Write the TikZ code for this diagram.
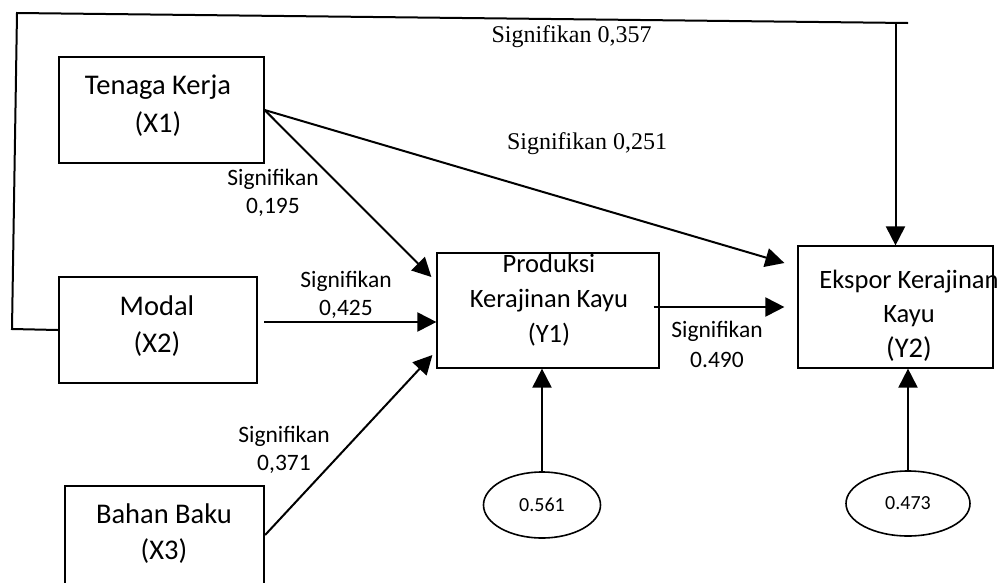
\documentclass[tikz,border=0pt]{standalone}
\usepackage{fontspec}
\setmainfont{Carlito}
\newfontfamily\tms{Liberation Serif}
\usetikzlibrary{arrows.meta,shapes.geometric}
\begin{document}
\begin{tikzpicture}[x=1pt,y=-1pt,
  thinbox/.style={draw,line width=1.2pt,inner sep=0pt},
  thickbox/.style={draw,line width=2.2pt,inner sep=0pt},
  boxtext/.style={align=center,anchor=base,inner sep=0pt,font=\fontsize{28.5}{38}\selectfont},
  ytext/.style={align=center,anchor=base,inner sep=0pt,font=\fontsize{26.5}{35}\selectfont},
  siglabel/.style={align=center,anchor=base,inner sep=0pt,font=\fontsize{23.5}{28}\selectfont},
  tlabel/.style={anchor=base,inner sep=0pt,font=\tms\fontsize{24}{28}\selectfont},
  oval/.style={draw,line width=1.6pt,ellipse,inner sep=0pt,font=\fontsize{20}{24}\selectfont},
  conn/.style={line width=2pt},
  arr/.style={conn,-{Triangle[length=19pt,width=19pt]}}
]
\useasboundingbox (0,0) rectangle (1002,582);
\clip (0,0) rectangle (1002,582);
% boxes
\node[thinbox,minimum width=205pt,minimum height=106pt] (x1) at (161.5,110) {};
\node[thickbox,minimum width=198pt,minimum height=106pt] (x2) at (158,330) {};
\node[thickbox,minimum width=199pt,minimum height=114pt] (x3) at (164.5,543) {};
\node[thinbox,minimum width=222pt,minimum height=115pt] (y1) at (548,310.5) {};
\node[thinbox,minimum width=195pt,minimum height=122pt] (y2) at (895.5,307) {};
% box texts (anchor = baseline of last line)
\node[boxtext] (x1t) at (158,132) {Tenaga Kerja\\(X1)};
\node[boxtext,font=\fontsize{28.5}{37}\selectfont] (x2t) at (157,352) {Modal\\(X2)};
\node[boxtext,font=\fontsize{28.5}{36}\selectfont] (x3t) at (164,559) {Bahan Baku\\(X3)};
\node[ytext] (y1t) at (549,342) {Produksi\\Kerajinan Kayu\\(Y1)};
\node[ytext,font=\fontsize{26.5}{34.5}\selectfont] (y2t) at (909,357) {Ekspor Kerajinan\\Kayu\\{\fontsize{28.5}{34.5}\selectfont(Y2)}};
% ellipses
\node[oval,minimum width=117pt,minimum height=66pt] (e1) at (542,505) {0.561};
\node[oval,minimum width=124pt,minimum height=65pt] (e2) at (908,503.5) {0.473};
% top feedback line
\coordinate (tl) at (12,329);
\coordinate (tc) at (17,13);
\coordinate (tr) at (908,23);
\coordinate (tj) at (895.5,22.9);
\draw[conn] (x2.west) -- (tl) -- (tc) -- (tr);
\draw[arr] (tj) -- (y2.north);
% connectors
\draw[arr] (x1.east) -- ([xshift=-5pt,yshift=33.5pt]y1.west);
\draw[arr] (x1.east) -- ([xshift=-13pt,yshift=44pt]y2.west);
\draw[arr] ([xshift=6pt,yshift=8pt]x2.east) -- ([yshift=-11.5pt]y1.west);
\draw[arr] ([yshift=8pt]x3.east) -- ([xshift=-4pt,yshift=-44.5pt]y1.west);
\draw[arr] ([xshift=-6pt,yshift=3.5pt]y1.east) -- ([xshift=-13pt,yshift=0pt]y2.west);
\draw[arr] (e1.north) -- (e1.north |- y1.south);
\draw[arr] (e2.north) -- (e2.north |- y2.south);
% labels
\node[tlabel] (s357) at (571.5,42) {Signifikan 0,357};
\node[tlabel] (s251) at (587,149) {Signifikan 0,251};
\node[siglabel] (s195) at (273,213) {Signifikan\\0,195};
\node[siglabel] (s425) at (346,315) {Signifikan\\0,425};
\node[siglabel] (s371) at (284,470) {Signifikan\\0,371};
\node[siglabel,font=\fontsize{23.5}{30}\selectfont] (s490) at (717,367) {Signifikan\\0.490};
\end{tikzpicture}
\end{document}
